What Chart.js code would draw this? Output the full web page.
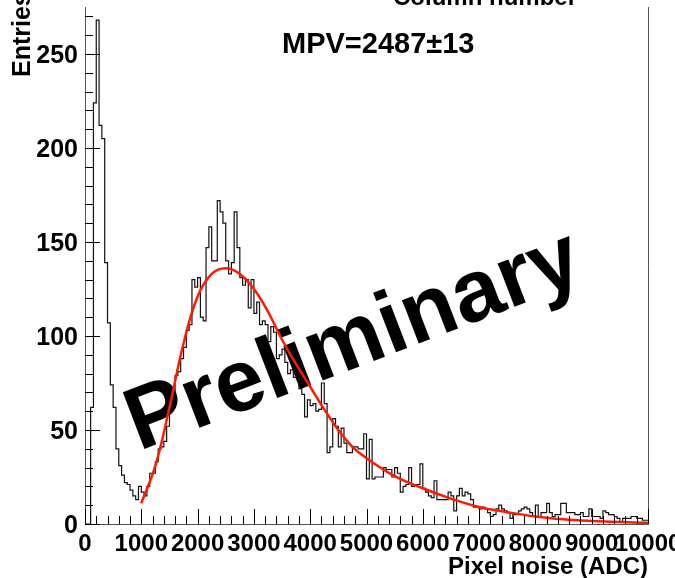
<!DOCTYPE html>
<html>
<head>
<meta charset="utf-8">
<script src="https://cdn.jsdelivr.net/npm/chart.js@4.4.0/dist/chart.umd.min.js"></script>
<style>
  html, body { margin: 0; padding: 0; background: #fff; }
  #wrap { width: 675px; height: 578px; }
</style>
</head>
<body>
<div id="wrap"><canvas id="noiseChart" width="675" height="578"></canvas></div>
<script>
// histogram: 200 bins of 50 ADC from 0 to 10000
const binWidth = 50;
const noiseCounts = [
  0, 0, 62, 224, 268, 212, 205, 139, 107, 74,
  62, 40, 31, 26, 22, 21, 18, 15, 13, 20,
  17, 15, 20, 27, 27, 33, 40, 41, 44, 52,
  62, 68, 79, 81, 88, 94, 103, 106, 130, 126,
  131, 110, 108, 147, 158, 140, 140, 172, 166, 160,
  140, 133, 139, 166, 147, 131, 127, 130, 115, 130,
  112, 118, 106, 108, 106, 97, 105, 102, 88, 90,
  93, 86, 80, 82, 78, 83, 72, 69, 57, 66,
  63, 64, 60, 61, 75, 64, 38, 41, 56, 52,
  41, 51, 43, 38, 38, 41, 41, 40, 40, 48,
  24, 45, 24, 25, 25, 25, 30, 29, 29, 25,
  30, 27, 17, 20, 21, 30, 20, 21, 21, 32,
  19, 17, 15, 14, 23, 13, 13, 13, 13, 17,
  15, 7, 15, 19, 15, 17, 16, 13, 9, 9,
  8, 9, 8, 6, 4, 5, 8, 10, 8, 7,
  6, 3, 5, 5, 7, 8, 9, 8, 6, 4,
  10, 4, 6, 6, 11, 6, 4, 5, 5, 11,
  11, 6, 6, 6, 5, 5, 6, 4, 4, 8,
  4, 4, 4, 3, 7, 6, 5, 5, 4, 3,
  1, 3, 3, 3, 4, 4, 3, 3, 2, 2
];

// fitted curve
const fitAdc = [1000, 1250, 1500, 1750, 2000, 2250, 2500, 2750, 3000, 3250, 3500, 3750, 4000,
  4250, 4500, 4750, 5000, 5500, 6000, 6500, 7000, 7500, 8000, 8500, 9000, 9500, 10000];
const fitEntries = [11, 31, 62, 96, 121, 133, 136, 133, 125, 113, 98, 85, 73,
  61, 50, 41, 35, 25.5, 19, 13.5, 9, 6.3, 4, 2.5, 1.6, 1, 0.6];

const xTicks = [0, 1000, 2000, 3000, 4000, 5000, 6000, 7000, 8000, 9000, 10000];
const yTicks = [0, 50, 100, 150, 200, 250];
const xMinorStep = 200;
const yMinorStep = 10;
const xRange = [0, 10000];
const yRange = [0, 275];

const fitText = "MPV=2487\u00B113";
const xTitle = "Pixel noise (ADC)";
const yTitle = "Entries";
const upperTitle = "Column number";
const watermark = "Preliminary";

const font = '"Liberation Sans", Arial, Helvetica, sans-serif';

// histogram outline: one point per left bin edge, plus the right end
const histPoints = noiseCounts.map((v, i) => ({ x: i * binWidth, y: v }));
histPoints.push({ x: noiseCounts.length * binWidth, y: noiseCounts[noiseCounts.length - 1] });
const fitPoints = fitAdc.map((x, i) => ({ x: x, y: fitEntries[i] }));

const rootStyle = {
  id: "rootStyle",
  beforeDatasetsDraw(chart) {
    const { ctx, chartArea: a } = chart;
    ctx.save();
    ctx.beginPath();
    ctx.rect(a.left, a.top, a.right - a.left, a.bottom - a.top);
    ctx.clip();
    ctx.translate(139, 451);
    ctx.rotate(-21 * Math.PI / 180);
    ctx.font = "bold 88px " + font;
    ctx.fillStyle = "#000";
    ctx.textBaseline = "alphabetic";
    ctx.fillText(watermark, 0, 0);
    ctx.restore();
  },
  afterDatasetsDraw(chart) {
    const { ctx, chartArea: a, scales } = chart;
    const xs = scales.x, ys = scales.y;
    ctx.save();

    // frame (no top line, it is hidden in the original)
    ctx.strokeStyle = "#555";
    ctx.lineWidth = 1;
    ctx.beginPath();
    ctx.moveTo(a.left + 0.5, a.top);
    ctx.lineTo(a.left + 0.5, a.bottom + 0.5);
    ctx.lineTo(a.right + 0.5, a.bottom + 0.5);
    ctx.lineTo(a.right + 0.5, a.top);
    ctx.stroke();

    // ticks inside the frame
    ctx.strokeStyle = "#000";
    ctx.beginPath();
    for (let v = yRange[0]; v <= yRange[1]; v += yMinorStep) {
      const y = Math.round(ys.getPixelForValue(v)) + 0.5;
      const len = yTicks.includes(v) ? 15 : 8;
      ctx.moveTo(a.left, y);
      ctx.lineTo(a.left + len, y);
    }
    for (let v = xRange[0]; v <= xRange[1]; v += xMinorStep) {
      const x = Math.round(xs.getPixelForValue(v)) + 0.5;
      const len = xTicks.includes(v) ? 15 : 8;
      ctx.moveTo(x, a.bottom);
      ctx.lineTo(x, a.bottom - len);
    }
    ctx.stroke();

    // tick labels
    ctx.fillStyle = "#000";
    ctx.font = "bold 25px " + font;
    ctx.textAlign = "right";
    ctx.textBaseline = "middle";
    yTicks.forEach(v => {
      ctx.fillText(String(v), a.left - 7, ys.getPixelForValue(v) + 2);
    });
    ctx.font = "bold 24px " + font;
    ctx.textAlign = "center";
    ctx.textBaseline = "alphabetic";
    xTicks.forEach(v => {
      ctx.fillText(String(v), xs.getPixelForValue(v), a.bottom + 27);
    });

    // axis titles
    ctx.textAlign = "right";
    ctx.fillText(xTitle, a.right, 574);
    ctx.save();
    ctx.translate(30, 77);
    ctx.rotate(-Math.PI / 2);
    ctx.font = "bold 25px " + font;
    ctx.textAlign = "left";
    ctx.fillText(yTitle, 0, 0);
    ctx.restore();
    ctx.textAlign = "left";
    ctx.fillText(upperTitle, 393, 5);

    // fit result
    ctx.font = "bold 29px " + font;
    ctx.fillText(fitText, 282, 53);
    ctx.restore();
  }
};

new Chart(document.getElementById("noiseChart"), {
  type: "line",
  data: {
    datasets: [
      {
        label: "noise",
        data: histPoints,
        stepped: "before",
        borderColor: "#111",
        borderWidth: 1.2,
        pointRadius: 0,
        fill: false,
        order: 2
      },
      {
        label: "fit",
        data: fitPoints,
        borderColor: "#ff1a00",
        borderWidth: 2.5,
        pointRadius: 0,
        tension: 0.4,
        fill: false,
        order: 1
      }
    ]
  },
  options: {
    responsive: false,
    animation: false,
    devicePixelRatio: 1,
    layout: { padding: { left: 85, right: 27, top: 7, bottom: 54 } },
    plugins: { legend: { display: false }, tooltip: { enabled: false } },
    scales: {
      x: { type: "linear", min: xRange[0], max: xRange[1], display: false },
      y: { type: "linear", min: yRange[0], max: yRange[1], display: false }
    }
  },
  plugins: [rootStyle]
});
</script>
</body>
</html>
